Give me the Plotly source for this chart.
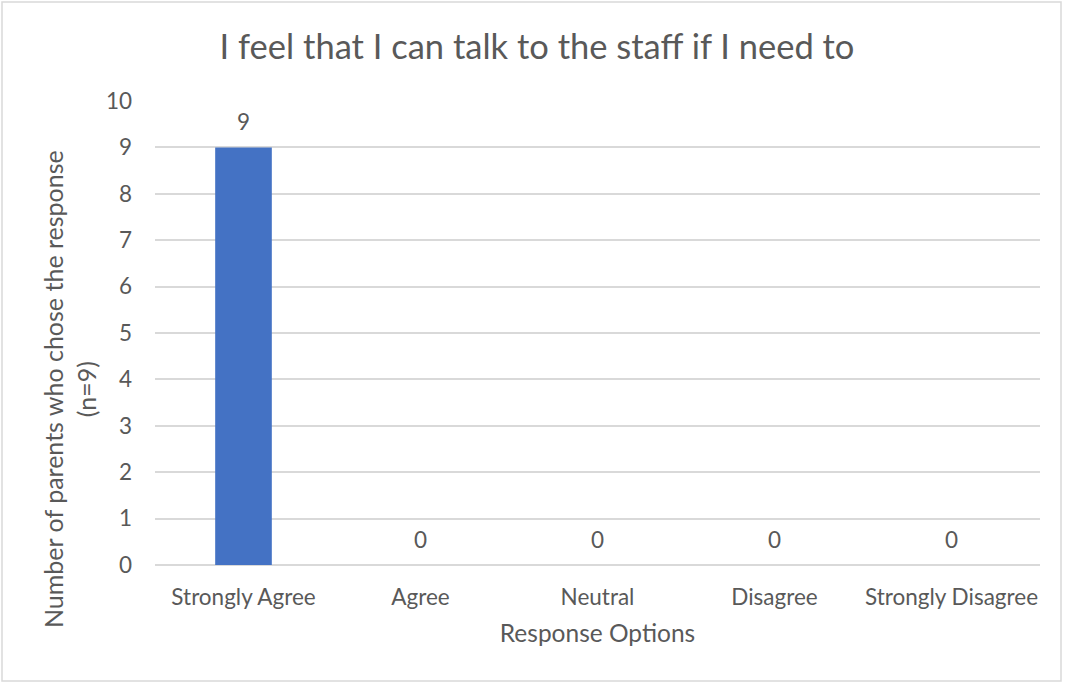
import plotly.graph_objects as go

categories = ["Strongly Agree", "Agree", "Neutral", "Disagree", "Strongly Disagree"]
counts = [9, 0, 0, 0, 0]
y_ticks = [0, 1, 2, 3, 4, 5, 6, 7, 8, 9, 10]

W, H = 1066, 683
L, R, T, B = 155, 26, 101, 118
pw, ph = W - L - R, H - T - B

font_family = "Lato, Carlito, Calibri, sans-serif"
txt = "#595959"

fig = go.Figure(go.Bar(
    x=categories, y=counts,
    marker=dict(color="#4472c4", line=dict(width=0)),
    hoverinfo="x+y",
))

def px_to_paper_x(px):
    return (px - L) / pw

def px_to_paper_y(py):
    return 1 - (py - T) / ph

annotations = [
    dict(x=c, y=v, xref="x", yref="y", text=str(v), showarrow=False,
         yanchor="bottom", yshift=10, font=dict(size=22.5, color=txt, family=font_family))
    for c, v in zip(categories, counts)
]
annotations.append(dict(
    x=px_to_paper_x(69), y=px_to_paper_y(389), xref="paper", yref="paper",
    text="Number of parents who chose the response<br>(n=9)", textangle=-90,
    showarrow=False, xanchor="center", yanchor="middle",
    font=dict(size=25, color=txt, family=font_family),
))

fig.update_layout(
    width=W, height=H,
    margin=dict(l=L, r=R, t=T, b=B),
    paper_bgcolor="white", plot_bgcolor="white",
    bargap=0.68,
    showlegend=False,
    font=dict(family=font_family, color=txt, size=22.5),
    title=dict(text="I feel that I can talk to the staff if I need to",
               x=px_to_paper_x(537), xref="paper", xanchor="center",
               y=1 - 47 / H, yanchor="middle",
               font=dict(size=34.5, color=txt, family=font_family)),
    xaxis=dict(showgrid=False, showline=False, ticks="", ticklabelstandoff=16,
               tickfont=dict(size=22.5, color=txt),
               title=dict(text="Response Options", font=dict(size=24.5, color=txt), standoff=16)),
    yaxis=dict(range=[0, 10], tickvals=y_ticks, showgrid=True, gridcolor="#d9d9d9", gridwidth=1.5,
               zeroline=True, zerolinecolor="#d9d9d9", zerolinewidth=1.5,
               showline=False, ticks="", ticklen=0, ticklabelstandoff=22,
               tickfont=dict(size=22.5, color=txt)),
    annotations=annotations,
    shapes=[dict(type="rect", xref="paper", yref="paper",
                 x0=px_to_paper_x(2), x1=px_to_paper_x(1061),
                 y0=px_to_paper_y(681), y1=px_to_paper_y(2),
                 line=dict(color="#d9d9d9", width=1.5), fillcolor="rgba(0,0,0,0)", layer="below")],
)

fig.write_html("out.html", config={"displayModeBar": False},
               post_script="document.body.style.margin='0';document.body.style.overflow='hidden';")
